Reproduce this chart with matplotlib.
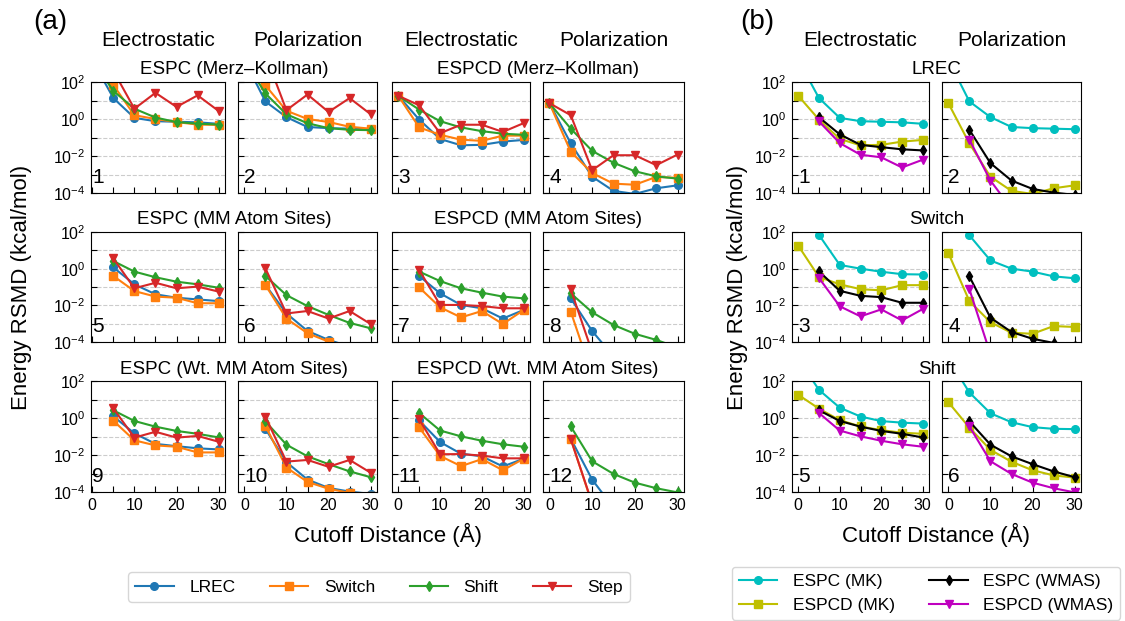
import matplotlib.pyplot as plt
import numpy as np
from matplotlib.transforms import blended_transform_factory

plt.rcParams["font.family"] = ["Liberation Sans", "DejaVu Sans"]
plt.rcParams["mathtext.fontset"] = "custom"
plt.rcParams["mathtext.rm"] = "Liberation Sans"
plt.rcParams["mathtext.it"] = "Liberation Sans:italic"
plt.rcParams["mathtext.bf"] = "Liberation Sans:bold"

nan = np.nan
CUTOFF = [0, 5, 10, 15, 20, 25, 30]

# ---- energy RMSD values (kcal/mol) ----
ESPC_MK_ELEC = {
    "LREC":   [1600, 13.5, 1.15, 0.76, 0.71, 0.66, 0.55],
    "Switch": [1600, 69, 1.6, 1.0, 0.68, 0.5, 0.48],
    "Shift":  [1600, 33, 3.6, 1.2, 0.68, 0.56, 0.5],
    "Step":   [1600, 400, 3.6, 26, 4.5, 19, 2.7],
}
ESPC_MK_POL = {
    "LREC":   [1600, 8.9, 1.26, 0.37, 0.32, 0.30, 0.28],
    "Switch": [1600, 66, 2.8, 1.0, 0.69, 0.38, 0.30],
    "Shift":  [1600, 24, 1.8, 0.59, 0.32, 0.26, 0.25],
    "Step":   [1600, 3000, 3.0, 21, 2.4, 13.5, 1.8],
}
ESPCD_MK_ELEC = {
    "LREC":   [18, 0.93, 0.083, 0.038, 0.04, 0.06, 0.074],
    "Switch": [18, 0.35, 0.14, 0.076, 0.066, 0.126, 0.126],
    "Shift":  [18, 3.2, 0.76, 0.35, 0.22, 0.16, 0.14],
    "Step":   [18, 5.5, 0.17, 0.49, 0.49, 0.2, 0.6],
}
ESPCD_MK_POL = {
    "LREC":   [7.2, 0.048, 7.6e-4, 1.3e-4, 8.9e-5, 1.8e-4, 2.6e-4],
    "Switch": [7.2, 0.017, 1.2e-3, 3.2e-4, 2.8e-4, 7.4e-4, 6.6e-4],
    "Shift":  [7.2, 0.3, 0.019, 4.3e-3, 1.5e-3, 7.9e-4, 6.0e-4],
    "Step":   [7.2, 1.6, 1.7e-3, 0.011, 0.011, 3.2e-3, 0.012],
}
ESPC_MMAS_ELEC = {
    "LREC":   [nan, 1.17, 0.14, 0.04, 0.026, 0.021, 0.017],
    "Switch": [nan, 0.4, 0.06, 0.03, 0.026, 0.013, 0.013],
    "Shift":  [nan, 2.6, 0.69, 0.34, 0.195, 0.14, 0.091],
    "Step":   [nan, 3.6, 0.085, 0.17, 0.085, 0.105, 0.056],
}
ESPC_MMAS_POL = {
    "LREC":   [nan, 0.13, 3.6e-3, 4.0e-4, 1.3e-4, 5.6e-5, 2.5e-5],
    "Switch": [nan, 0.13, 1.9e-3, 3.0e-4, 1.05e-4, 5.6e-5, 2.5e-5],
    "Shift":  [nan, 0.4, 0.036, 9.1e-3, 3.0e-3, 1.1e-3, 5.6e-4],
    "Step":   [nan, 1.05, 3.6e-3, 4.9e-3, 1.9e-3, 4.9e-3, 9.5e-4],
}
ESPCD_MMAS_ELEC = {
    "LREC":   [nan, 0.4, 0.045, 0.0105, 6.9e-3, 1.9e-3, 5.6e-3],
    "Switch": [nan, 0.095, 7.8e-3, 2.2e-3, 4.9e-3, 9.5e-4, 5.6e-3],
    "Shift":  [nan, 0.69, 0.21, 0.085, 0.049, 0.03, 0.024],
    "Step":   [nan, 0.85, 0.0105, 0.0105, 9.1e-3, 6.9e-3, 6.9e-3],
}
ESPCD_MMAS_POL = {
    "LREC":   [nan, 0.024, 4.0e-4, 1.6e-5, 3e-6, 1e-6, 3e-7],
    "Switch": [nan, 4.5e-3, 1.6e-6, 3e-7, 1e-7, 1e-7, 1e-7],
    "Shift":  [nan, 0.045, 4.2e-3, 8.5e-4, 2.8e-4, 1.3e-4, 5e-5],
    "Step":   [nan, 0.074, 2.8e-5, 1e-6, 3e-7, 1e-7, 1e-7],
}
ESPC_WMAS_ELEC = {
    "LREC":   [nan, 1.23, 0.148, 0.04, 0.03, 0.023, 0.02],
    "Switch": [nan, 0.71, 0.062, 0.033, 0.028, 0.0138, 0.0138],
    "Shift":  [nan, 2.6, 0.69, 0.34, 0.2, 0.14, 0.089],
    "Step":   [nan, 3.3, 0.087, 0.18, 0.087, 0.107, 0.052],
}
ESPC_WMAS_POL = {
    "LREC":   [nan, 0.26, 4.1e-3, 4.7e-4, 1.66e-4, 1.05e-4, 7.9e-5],
    "Switch": [nan, 0.38, 2.1e-3, 3.5e-4, 1.5e-4, 8.9e-5, 6.3e-5],
    "Shift":  [nan, 0.66, 0.036, 8.5e-3, 3.2e-3, 1.3e-3, 6.3e-4],
    "Step":   [nan, 1.17, 4.4e-3, 5.4e-3, 2.3e-3, 5.4e-3, 1.1e-3],
}
ESPCD_WMAS_ELEC = {
    "LREC":   [nan, 0.74, 0.05, 0.0117, 8.5e-3, 2.4e-3, 6.3e-3],
    "Switch": [nan, 0.31, 8.9e-3, 2.5e-3, 6.0e-3, 1.5e-3, 6.3e-3],
    "Shift":  [nan, 1.86, 0.21, 0.102, 0.059, 0.038, 0.028],
    "Step":   [nan, 0.85, 0.011, 0.0112, 9.3e-3, 6.6e-3, 6.6e-3],
}
ESPCD_WMAS_POL = {
    "LREC":   [nan, 0.076, 4.7e-4, 1.4e-5, 3e-6, 1e-6, 3e-7],
    "Switch": [nan, 0.076, 2.2e-5, 1e-6, 3e-7, 1e-7, 1e-7],
    "Shift":  [nan, 0.35, 4.6e-3, 9.5e-4, 3.2e-4, 1.6e-4, 9.5e-5],
    "Step":   [nan, 0.071, 2.5e-5, 1e-6, 3e-7, 1e-7, 1e-7],
}

METHODS = [("LREC", "tab:blue", "o"), ("Switch", "tab:orange", "s"),
           ("Shift", "tab:green", "d"), ("Step", "tab:red", "v")]
A_ROWS = [
    ("ESPC (Merz\u2013Kollman)", ESPC_MK_ELEC, ESPC_MK_POL,
     "ESPCD (Merz\u2013Kollman)", ESPCD_MK_ELEC, ESPCD_MK_POL),
    ("ESPC (MM Atom Sites)", ESPC_MMAS_ELEC, ESPC_MMAS_POL,
     "ESPCD (MM Atom Sites)", ESPCD_MMAS_ELEC, ESPCD_MMAS_POL),
    ("ESPC (Wt. MM Atom Sites)", ESPC_WMAS_ELEC, ESPC_WMAS_POL,
     "ESPCD (Wt. MM Atom Sites)", ESPCD_WMAS_ELEC, ESPCD_WMAS_POL),
]
B_SERIES = [
    ("ESPC (MK)", "c", "o", ESPC_MK_ELEC, ESPC_MK_POL),
    ("ESPCD (MK)", "y", "s", ESPCD_MK_ELEC, ESPCD_MK_POL),
    ("ESPC (WMAS)", "k", "d", ESPC_WMAS_ELEC, ESPC_WMAS_POL),
    ("ESPCD (WMAS)", "m", "v", ESPCD_WMAS_ELEC, ESPCD_WMAS_POL),
]
B_ROWS = ["LREC", "Switch", "Shift"]

# ---- layout in pixels ----
W, H = 1125, 621
ROW_Y = [(82, 193), (232, 342), (381, 492)]
A_COLS = [(91, 225), (238, 377), (392, 530), (543, 684)]
B_COLS = [(792, 929), (942, 1081)]


def add_axes(fig, cols, rows):
    left, right = cols
    top, bottom = rows
    return fig.add_axes([left / W, 1 - bottom / H, (right - left) / W,
                         (bottom - top) / H])


def style_axes(ax, number, ylabels, xlabels, xmin=-1.5):
    ax.set_yscale("log")
    ax.set_ylim(1e-4, 1e2)
    ax.set_xlim(xmin, 31.5)
    ax.set_yticks([10.0 ** k for k in range(-4, 3)])
    ax.minorticks_off()
    if ylabels:
        ax.set_yticklabels([r"$10^{-4}$", "", r"$10^{-2}$", "", r"$10^{0}$",
                            "", r"$10^{2}$"])
    else:
        ax.set_yticklabels([])
    ax.set_xticks(CUTOFF)
    if xlabels:
        ax.set_xticklabels(["0", "", "10", "", "20", "", "30"])
    else:
        ax.set_xticklabels([])
    ax.tick_params(direction="in", length=4, width=0.8, labelsize=11.5, pad=4)
    ax.grid(axis="y", linestyle="--", color="#cccccc", linewidth=0.8)
    ax.set_axisbelow(True)
    trans = blended_transform_factory(ax.transData, ax.transAxes)
    ax.text(0, 0.09, str(number), transform=trans, fontsize=15,
            ha="left", va="baseline")


fig = plt.figure(figsize=(W / 100, H / 100), dpi=100)

# ---- (a) ----
for r, (t1, d1e, d1p, t2, d2e, d2p) in enumerate(A_ROWS):
    for c, data in enumerate([d1e, d1p, d2e, d2p]):
        ax = add_axes(fig, A_COLS[c], ROW_Y[r])
        for name, color, marker in METHODS:
            ax.plot(CUTOFF, data[name], color=color, marker=marker,
                    markersize=5.5, linewidth=1.5, label=name)
        style_axes(ax, 4 * r + c + 1, c == 0, r == 2,
                   xmin=-0.3 if c == 0 else -1.5)
        if r == 0 and c == 0:
            a_handles, a_labels = ax.get_legend_handles_labels()
    top = ROW_Y[r][0]
    fig.text((A_COLS[0][0] + A_COLS[1][1]) / 2 / W, 1 - (top - 12) / H, t1,
             ha="center", va="center", fontsize=13.5)
    fig.text((A_COLS[2][0] + A_COLS[3][1]) / 2 / W, 1 - (top - 12) / H, t2,
             ha="center", va="center", fontsize=13.5)

# ---- (b) ----
for r, method in enumerate(B_ROWS):
    for c in range(2):
        ax = add_axes(fig, B_COLS[c], ROW_Y[r])
        for label, color, marker, d_elec, d_pol in B_SERIES:
            data = d_elec if c == 0 else d_pol
            ax.plot(CUTOFF, data[method], color=color, marker=marker,
                    markersize=5.5, linewidth=1.5, label=label)
        style_axes(ax, 2 * r + c + 1, c == 0, r == 2)
        if r == 0 and c == 0:
            b_handles, b_labels = ax.get_legend_handles_labels()
    top = ROW_Y[r][0]
    fig.text((B_COLS[0][0] + B_COLS[1][1]) / 2 / W, 1 - (top - 12) / H,
             method, ha="center", va="center", fontsize=13.5)

# column headers
headers = ["Electrostatic", "Polarization"]
for i, cols in enumerate(A_COLS + B_COLS):
    fig.text((cols[0] + cols[1]) / 2 / W, 1 - 40 / H, headers[i % 2],
             ha="center", va="center", fontsize=15)

fig.text(50 / W, 1 - 22 / H, "(a)", ha="center", va="center", fontsize=20)
fig.text(757 / W, 1 - 22 / H, "(b)", ha="center", va="center", fontsize=20)

for x in (22, 738):
    fig.text(x / W, 1 - 287 / H, "Energy RSMD (kcal/mol)", rotation=90,
             ha="center", va="center", fontsize=16)
fig.text(388 / W, 1 - 535 / H, "Cutoff Distance (\u00c5)", ha="center",
         va="center", fontsize=16)
fig.text(936 / W, 1 - 535 / H, "Cutoff Distance (\u00c5)", ha="center",
         va="center", fontsize=16)

fig.legend(a_handles, a_labels, loc="center", ncol=4,
           bbox_to_anchor=(379 / W, 1 - 587 / H), fontsize=12.5,
           columnspacing=2.0, handlelength=2.2, handletextpad=0.9)
fig.legend(b_handles, b_labels, loc="upper left", ncol=2,
           bbox_to_anchor=(732 / W, 1 - 567 / H), borderaxespad=0,
           fontsize=12.5, columnspacing=2.0, handlelength=2.2,
           handletextpad=0.9)

fig.savefig("out.png", dpi=100)
